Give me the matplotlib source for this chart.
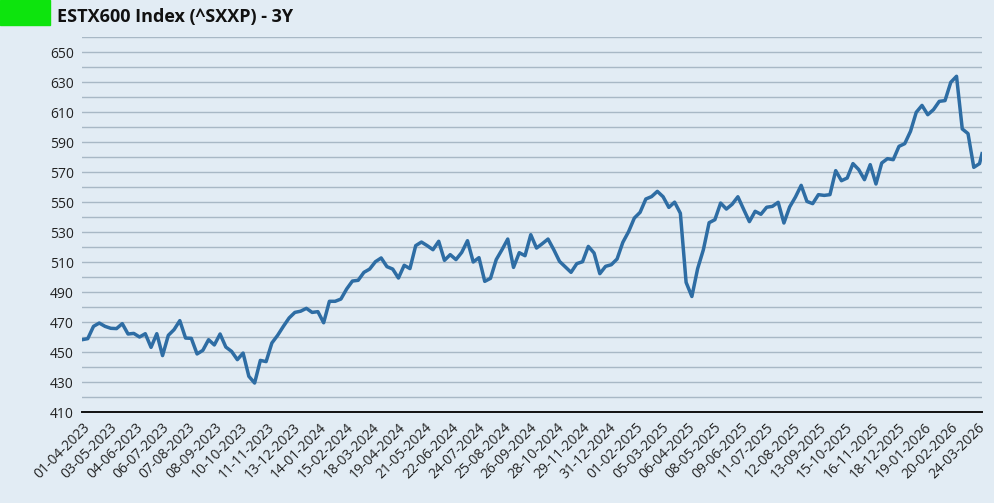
import matplotlib
matplotlib.use("Agg")
import matplotlib.pyplot as plt
import pandas as pd
import numpy as np

plt.rcParams['font.family'] = ['Open Sans', 'DejaVu Sans']

# weekly closes
values = [
    458.2, 458.9, 467.1, 469.3, 467.1, 465.8, 465.6, 468.9, 462.0, 462.4,
    460.0, 462.2, 453.1, 462.2, 447.6, 461.1, 464.9, 470.9, 459.3, 459.1,
    448.7, 451.1, 458.2, 454.7, 462.0, 453.3, 450.4, 444.9, 449.3, 433.8,
    429.3, 444.4, 443.6, 456.0, 461.1, 467.1, 472.7, 476.4, 477.2, 479.1,
    476.4, 476.9, 469.5, 483.8, 483.8, 485.3, 492.0, 497.3, 497.8, 503.1,
    505.3, 510.2, 512.7, 506.9, 505.3, 499.3, 507.8, 505.6, 520.9, 523.3,
    520.9, 518.2, 523.8, 511.1, 514.9, 511.6, 516.4, 524.2, 510.0, 512.9,
    497.1, 499.1, 511.6, 518.2, 525.3, 506.4, 516.2, 514.2, 528.2, 519.3,
    522.2, 525.3, 518.2, 510.4, 506.7, 503.1, 508.9, 510.2, 520.4, 516.0,
    502.2, 507.1, 508.2, 512.0, 523.1, 530.2, 539.3, 543.1, 552.0, 553.6,
    557.1, 553.5, 546.4, 549.9, 542.5, 496.4, 487.0, 505.5, 518.2, 536.2,
    538.2, 549.3, 545.3, 548.5, 553.5, 545.1, 536.9, 543.8, 541.8, 546.5,
    547.1, 549.8, 536.0, 546.7, 553.3, 561.1, 550.4, 548.9, 554.9, 554.4,
    554.9, 570.9, 564.2, 566.0, 575.6, 571.6, 564.9, 574.9, 562.0, 576.0,
    578.9, 578.2, 587.1, 588.9, 597.1, 609.8, 614.4, 608.2, 611.6, 617.1,
    617.6, 629.8, 633.8, 598.7, 595.6, 573.1, 575.6, 582.2,
]

weekly_dates = list(pd.date_range('2023-03-31', periods=len(values) - 1, freq='7D'))
dates = weekly_dates + [pd.Timestamp('2026-03-30')]

tick_labels = [
    '01-04-2023', '03-05-2023', '04-06-2023', '06-07-2023', '07-08-2023',
    '08-09-2023', '10-10-2023', '11-11-2023', '13-12-2023', '14-01-2024',
    '15-02-2024', '18-03-2024', '19-04-2024', '21-05-2024', '22-06-2024',
    '24-07-2024', '25-08-2024', '26-09-2024', '28-10-2024', '29-11-2024',
    '31-12-2024', '01-02-2025', '05-03-2025', '06-04-2025', '08-05-2025',
    '09-06-2025', '11-07-2025', '12-08-2025', '13-09-2025', '15-10-2025',
    '16-11-2025', '18-12-2025', '19-01-2026', '20-02-2026', '24-03-2026',
]
tick_dates = [pd.to_datetime(t, format='%d-%m-%Y') for t in tick_labels]

bg = '#e2ecf4'
fig = plt.figure(figsize=(9.94, 5.03), dpi=100, facecolor=bg)
ax = fig.add_axes([82 / 994, 1 - 412 / 503, 900 / 994, 375 / 503])
ax.set_facecolor(bg)

ax.plot(dates, values, color='#2e6da4', linewidth=2.5, solid_joinstyle='round', zorder=3)

ax.set_xlim(dates[0], dates[-1])
ax.set_ylim(410, 660)
ax.set_yticks(np.arange(410, 651, 20))
ax.set_yticks(np.arange(420, 661, 20), minor=True)
ax.grid(axis='y', which='both', color='#a8b8c5', linewidth=1.0, zorder=0)

ax.set_xticks(tick_dates)
ax.set_xticklabels(tick_labels, rotation=45, ha='right', va='top', rotation_mode='anchor')
ax.tick_params(axis='x', length=0, pad=6, labelsize=10, colors='#222222')
ax.tick_params(axis='y', which='both', length=0, pad=6, labelsize=10, colors='#222222')

for s in ['top', 'right', 'left']:
    ax.spines[s].set_visible(False)
ax.spines['bottom'].set_color('#111111')
ax.spines['bottom'].set_linewidth(1.4)
ax.spines['bottom'].set_zorder(4)

fig.patches.append(plt.Rectangle((0, 1 - 25 / 503), 50 / 994, 25 / 503,
                                 transform=fig.transFigure, color='#0de40d'))
fig.text(57 / 994, 1 - 17 / 503, 'ESTX600 Index (^SXXP) - 3Y', fontsize=13,
         fontweight='bold', color='#111111', va='center', ha='left')

fig.savefig('out.png', dpi=100, facecolor=bg)
